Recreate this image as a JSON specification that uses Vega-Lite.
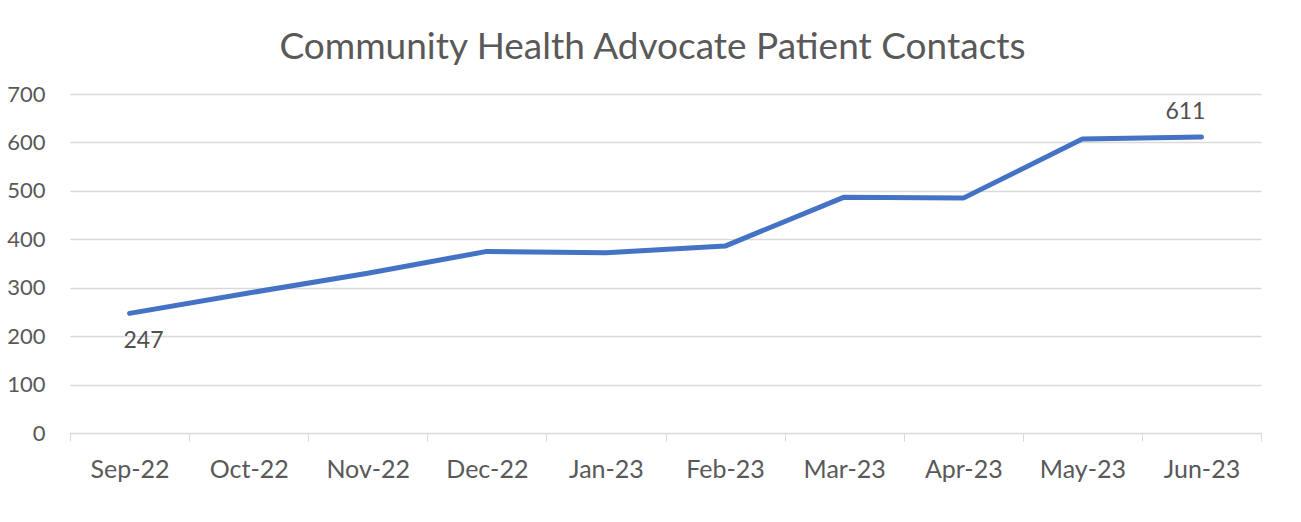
{
  "$schema": "https://vega.github.io/schema/vega-lite/v6.json",
  "width": 1191,
  "height": 339,
  "autosize": {"type": "none"},
  "padding": {"left": 70, "top": 94, "right": 40, "bottom": 89},
  "background": "white",
  "title": {
    "text": "Community Health Advocate Patient Contacts",
    "font": "Lato",
    "fontSize": 37,
    "fontWeight": "normal",
    "color": "#595959",
    "anchor": "middle",
    "frame": "group",
    "dx": -13,
    "offset": 16
  },
  "data": {
    "values": [
      {"month": "Sep-22", "contacts": 247},
      {"month": "Oct-22", "contacts": 289},
      {"month": "Nov-22", "contacts": 330},
      {"month": "Dec-22", "contacts": 375},
      {"month": "Jan-23", "contacts": 372},
      {"month": "Feb-23", "contacts": 386},
      {"month": "Mar-23", "contacts": 487},
      {"month": "Apr-23", "contacts": 485},
      {"month": "May-23", "contacts": 607},
      {"month": "Jun-23", "contacts": 611}
    ]
  },
  "encoding": {
    "x": {
      "field": "month",
      "type": "ordinal",
      "sort": null,
      "scale": {"type": "band", "paddingInner": 0, "paddingOuter": 0},
      "axis": {
        "title": null,
        "labelAngle": 0,
        "labelFont": "Lato",
        "labelFontSize": 25,
        "labelColor": "#595959",
        "labelPadding": 16,
        "tickBand": "extent",
        "tickSize": 8,
        "tickColor": "#d9d9d9",
        "domainColor": "#d9d9d9",
        "grid": false
      }
    },
    "y": {
      "field": "contacts",
      "type": "quantitative",
      "scale": {"domain": [0, 700], "nice": false},
      "axis": {
        "title": null,
        "values": [0, 100, 200, 300, 400, 500, 600, 700],
        "labelFont": "Lato",
        "labelFontSize": 22,
        "labelColor": "#595959",
        "labelPadding": 25,
        "ticks": false,
        "domain": false,
        "gridColor": "#d9d9d9",
        "gridWidth": 1.5
      }
    }
  },
  "layer": [
    {
      "mark": {"type": "line", "color": "#4472C4", "strokeWidth": 5, "strokeCap": "round", "strokeJoin": "round"}
    },
    {
      "transform": [{"filter": "datum.month === 'Sep-22'"}],
      "mark": {"type": "text", "font": "Lato", "fontSize": 23, "color": "#505050", "dx": 14, "dy": 28, "baseline": "middle"},
      "encoding": {"text": {"field": "contacts"}}
    },
    {
      "transform": [{"filter": "datum.month === 'Jun-23'"}],
      "mark": {"type": "text", "font": "Lato", "fontSize": 23, "color": "#505050", "dx": -16, "dy": -25, "baseline": "middle"},
      "encoding": {"text": {"field": "contacts"}}
    }
  ],
  "config": {"view": {"stroke": null}}
}
